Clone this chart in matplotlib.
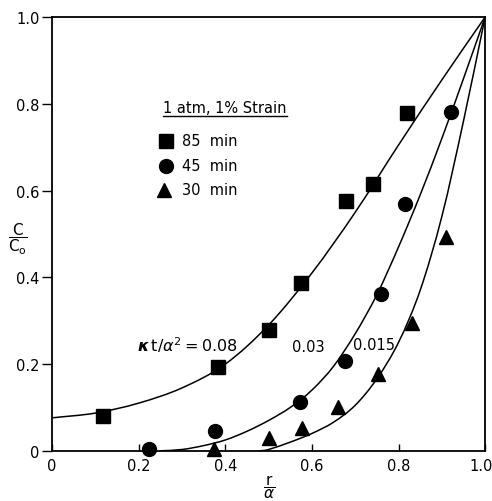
import numpy as np
import matplotlib

matplotlib.use("Agg")
import matplotlib.pyplot as plt
from matplotlib.path import Path
from matplotlib.patches import PathPatch
from matplotlib.transforms import ScaledTranslation

# measured points, C/C0 against r/a
sq_x = [0.118, 0.383, 0.50, 0.575, 0.679, 0.741, 0.82]
sq_y = [0.080, 0.193, 0.278, 0.386, 0.575, 0.616, 0.779]
ci_x = [0.224, 0.376, 0.573, 0.677, 0.76, 0.815, 0.922]
ci_y = [0.003, 0.046, 0.113, 0.207, 0.361, 0.570, 0.780]
tr_x = [0.374, 0.501, 0.577, 0.66, 0.753, 0.831, 0.91]
tr_y = [0.005, 0.030, 0.053, 0.100, 0.177, 0.294, 0.494]

# theory curves, kt/a^2 = 0.08, 0.03, 0.015
c08_x = [0.0, 0.1, 0.2, 0.3, 0.4, 0.5, 0.6, 0.7, 0.8, 0.9, 1.0]
c08_y = [0.076, 0.087, 0.11, 0.145, 0.20, 0.29, 0.41, 0.55, 0.705, 0.855, 1.0]
c03_x = [0.25, 0.30, 0.35, 0.40, 0.45, 0.50, 0.55, 0.60, 0.65, 0.70, 0.75, 0.80, 0.85, 0.90, 0.95, 1.0]
c03_y = [0.0, 0.003, 0.012, 0.025, 0.045, 0.07, 0.10, 0.14, 0.195, 0.27, 0.36, 0.47, 0.59, 0.72, 0.858, 1.0]
c015_x = [0.48, 0.50, 0.55, 0.60, 0.65, 0.70, 0.75, 0.80, 0.85, 0.90, 0.95, 1.0]
c015_y = [0.0, 0.003, 0.02, 0.04, 0.066, 0.105, 0.166, 0.25, 0.37, 0.54, 0.76, 1.0]

ticks = [0, 0.2, 0.4, 0.6, 0.8, 1.0]
tick_labels = ["0", "0.2", "0.4", "0.6", "0.8", "1.0"]


def smooth_path(xs, ys):
    # cubic bezier segments through the read points (catmull-rom handles)
    p = np.column_stack([xs, ys])
    ext = np.vstack([p[0] - (p[1] - p[0]), p, p[-1] + (p[-1] - p[-2])])
    verts = [p[0]]
    codes = [Path.MOVETO]
    for i in range(1, len(ext) - 2):
        c1 = ext[i] + (ext[i + 1] - ext[i - 1]) / 6
        c2 = ext[i + 1] - (ext[i + 2] - ext[i]) / 6
        verts += [c1, c2, ext[i + 1]]
        codes += [Path.CURVE4] * 3
    return Path(verts, codes)


plt.rcParams.update({"font.family": "DejaVu Sans", "mathtext.fontset": "dejavusans"})

fig = plt.figure(figsize=(4.92, 5.02), dpi=100)
ax = fig.add_axes([0.106, 0.1, 0.88, 0.864])

for cx, cy in [(c08_x, c08_y), (c03_x, c03_y), (c015_x, c015_y)]:
    ax.add_patch(PathPatch(smooth_path(cx, cy), fill=False, edgecolor="black", lw=1.1))

ax.plot(sq_x, sq_y, "s", color="black", ms=9.5, clip_on=False)
ax.plot(ci_x, ci_y, "o", color="black", ms=10, clip_on=False)
ax.plot(tr_x, tr_y, "^", color="black", ms=10, clip_on=False)

ax.set_xlim(0, 1)
ax.set_ylim(0, 1)
ax.set_xticks(ticks)
ax.set_xticklabels(tick_labels, fontsize=10.5)
ax.set_yticks(ticks)
ax.set_yticklabels(tick_labels, fontsize=10.5)
ax.tick_params(axis="x", direction="in", length=5, width=1, pad=5)
ax.tick_params(axis="y", direction="out", length=7, width=1, pad=2)
last = ax.get_xticklabels()[-1]
last.set_transform(last.get_transform() + ScaledTranslation(-4 / 100, 0, fig.dpi_scale_trans))
for s in ax.spines.values():
    s.set_linewidth(1.3)

# legend block
ax.text(0.256, 0.78, "1 atm, 1% Strain", fontsize=10.5, va="baseline", ha="left")
ax.plot([0.256, 0.543], [0.771, 0.771], color="black", lw=1)
ax.plot([0.262], [0.715], "s", color="black", ms=9.5)
ax.plot([0.262], [0.657], "o", color="black", ms=10)
ax.plot([0.258], [0.602], "^", color="black", ms=10)
ax.text(0.30, 0.715, "85  min", fontsize=10.5, va="center", ha="left")
ax.text(0.30, 0.657, "45  min", fontsize=10.5, va="center", ha="left")
ax.text(0.30, 0.602, "30  min", fontsize=10.5, va="center", ha="left")

# curve labels
ax.text(0.196, 0.245, r"$\boldsymbol{\kappa}\,\mathrm{t}/\alpha^2 = 0.08$", fontsize=11.5, va="center", ha="left")
ax.text(0.555, 0.24, "0.03", fontsize=10.5, va="center", ha="left")
ax.text(0.695, 0.245, "0.015", fontsize=10.5, va="center", ha="left")

ax.set_ylabel(r"$\dfrac{\mathrm{C}}{\mathrm{C_o}}$", fontsize=11, rotation=0, va="center", ha="center")
ax.yaxis.set_label_coords(-0.08, 0.49)
ax.set_xlabel(r"$\dfrac{\mathrm{r}}{\alpha}$", fontsize=11)
ax.xaxis.set_label_coords(0.5, -0.05)

fig.savefig("out.png", dpi=100, facecolor="white")
